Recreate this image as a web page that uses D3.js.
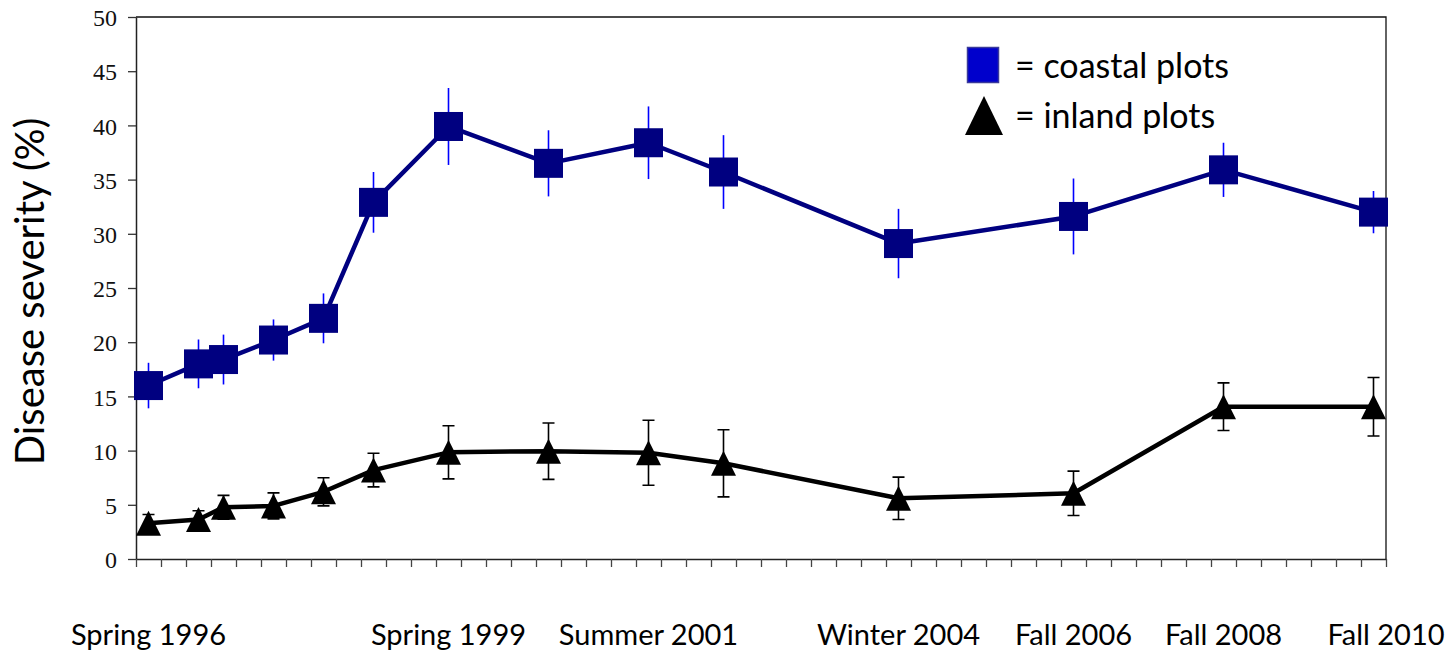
<!DOCTYPE html>
<html>
<head>
<meta charset="utf-8">
<script src="https://cdn.jsdelivr.net/npm/d3@7"></script>
<style>
  html, body { margin: 0; padding: 0; background: #fff; }
  svg { display: block; }
</style>
</head>
<body>
<svg id="chart" width="1448" height="653"></svg>
<script>
// Sampling slots along the category axis (50 slots in total)
const slotCount = 50;
const sampleSlots = [0, 2, 3, 5, 7, 9, 12, 16, 20, 23, 30, 37, 43, 49];

// Mean disease severity (%) and standard error per survey
const coastal    = [16.0, 18.0, 18.4, 20.2, 22.2, 32.9, 39.9, 36.5, 38.4, 35.7, 29.1, 31.6, 35.9, 32.0];
const coastalErr = [2.1, 2.25, 2.3, 1.9, 2.3, 2.8, 3.55, 3.05, 3.35, 3.4, 3.2, 3.5, 2.5, 1.95];
const inland     = [3.3, 3.65, 4.77, 4.9, 6.2, 8.2, 9.84, 9.95, 9.8, 8.83, 5.6, 6.06, 14.05, 14.05];
const inlandErr  = [0.8, 0.8, 1.1, 1.2, 1.3, 1.55, 2.45, 2.6, 3.0, 3.1, 1.95, 2.05, 2.2, 2.7];

// Labelled surveys on the time axis
const labelSlots = [0, 12, 20, 30, 37, 43, 49];
const labelTexts = ["Spring 1996", "Spring 1999", "Summer 2001", "Winter 2004", "Fall 2006", "Fall 2008", "Fall 2010"];

const yTicks = [0, 5, 10, 15, 20, 25, 30, 35, 40, 45, 50];

const plot = { left: 136, right: 1386, top: 17, bottom: 559 };
const sansFont = "Lato, 'Open Sans', sans-serif";

const svg = d3.select("#chart");

const x = d3.scaleLinear().domain([0, slotCount]).range([plot.left, plot.right]);
const y = d3.scaleLinear().domain([0, 50]).range([plot.bottom, plot.top]);
const cx = slot => x(slot + 0.5);

// Plot frame (top and right edges)
svg.append("path")
  .attr("d", `M${plot.left},${plot.top}H${plot.right}V${plot.bottom}`)
  .attr("fill", "none")
  .attr("stroke", "#111")
  .attr("stroke-width", 1.3);

// Y axis
const yAxis = svg.append("g")
  .attr("transform", `translate(${plot.left},0)`)
  .call(d3.axisLeft(y).tickValues(yTicks).tickSize(8).tickSizeOuter(0).tickPadding(11));
yAxis.select(".domain").attr("stroke", "#222").attr("stroke-width", 1.5);
yAxis.selectAll(".tick line").attr("stroke", "#333").attr("stroke-width", 1.3);
yAxis.selectAll(".tick text")
  .attr("font-family", "'Liberation Serif', 'Times New Roman', serif")
  .attr("font-size", 24)
  .attr("fill", "#111")
  .attr("dy", "0.36em");

// X axis: one tick per slot boundary, no numeric labels
const xAxis = svg.append("g")
  .attr("transform", `translate(0,${plot.bottom})`)
  .call(d3.axisBottom(x).tickValues(d3.range(0, slotCount + 1)).tickSize(8).tickSizeOuter(0).tickFormat(""));
xAxis.select(".domain").attr("stroke", "#222").attr("stroke-width", 1.5);
xAxis.selectAll(".tick line").attr("stroke", "#444").attr("stroke-width", 1.3);

// Survey labels under the axis
svg.append("g").selectAll("text")
  .data(labelSlots)
  .join("text")
  .attr("x", (s, i) => i === labelSlots.length - 1 ? x(slotCount) : cx(s))
  .attr("y", 645)
  .attr("text-anchor", "middle")
  .attr("font-family", sansFont)
  .attr("font-size", 29)
  .attr("fill", "#000")
  .text((s, i) => labelTexts[i]);

// Y axis title
svg.append("text")
  .attr("transform", `translate(44,${(118 + 465) / 2}) rotate(-90)`)
  .attr("text-anchor", "middle")
  .attr("font-family", sansFont)
  .attr("font-size", 40)
  .attr("fill", "#000")
  .text("Disease severity (%)");

const line = d3.line().x(d => cx(d.slot)).y(d => y(d.v));
const coastalPts = sampleSlots.map((slot, i) => ({ slot, v: coastal[i], e: coastalErr[i] }));
const inlandPts  = sampleSlots.map((slot, i) => ({ slot, v: inland[i], e: inlandErr[i] }));

// Inland series: line, capped error bars, triangle markers
svg.append("path")
  .datum(inlandPts)
  .attr("d", line)
  .attr("fill", "none")
  .attr("stroke", "#000")
  .attr("stroke-width", 4.5)
  .attr("stroke-linejoin", "round");

const inErr = svg.append("g").attr("stroke", "#000").attr("stroke-width", 1.6);
inErr.selectAll("path")
  .data(inlandPts)
  .join("path")
  .attr("fill", "none")
  .attr("d", d => {
    const px = cx(d.slot), t = y(d.v + d.e), b = y(d.v - d.e);
    return `M${px},${t}V${b}M${px - 6},${t}H${px + 6}M${px - 6},${b}H${px + 6}`;
  });

svg.append("g").selectAll("path")
  .data(inlandPts)
  .join("path")
  .attr("transform", d => `translate(${cx(d.slot)},${y(d.v)})`)
  .attr("d", "M0,-12.5L12.5,12.5L-12.5,12.5Z")
  .attr("fill", "#000");

// Coastal series: line, error bars, square markers
svg.append("path")
  .datum(coastalPts)
  .attr("d", line)
  .attr("fill", "none")
  .attr("stroke", "#000080")
  .attr("stroke-width", 4.5)
  .attr("stroke-linejoin", "round");

svg.append("g").selectAll("line")
  .data(coastalPts)
  .join("line")
  .attr("x1", d => cx(d.slot)).attr("x2", d => cx(d.slot))
  .attr("y1", d => y(d.v + d.e)).attr("y2", d => y(d.v - d.e))
  .attr("stroke", "#0000ff")
  .attr("stroke-width", 1.6);

svg.append("g").selectAll("rect")
  .data(coastalPts)
  .join("rect")
  .attr("x", d => cx(d.slot) - 14.5)
  .attr("y", d => y(d.v) - 14.5)
  .attr("width", 29)
  .attr("height", 29)
  .attr("fill", "#000080");

// Legend
const legend = svg.append("g");
legend.append("rect")
  .attr("x", 967.5).attr("y", 47.5).attr("width", 31).attr("height", 35)
  .attr("fill", "#0000cc")
  .attr("stroke", "#3a3a9a")
  .attr("stroke-width", 1.5);
legend.append("path")
  .attr("d", "M984,96L1003,135L965,135Z")
  .attr("fill", "#000");
legend.append("text")
  .attr("x", 1015).attr("y", 78)
  .attr("font-family", sansFont).attr("font-size", 34).attr("fill", "#000")
  .text("= coastal plots");
legend.append("text")
  .attr("x", 1015).attr("y", 128)
  .attr("font-family", sansFont).attr("font-size", 34).attr("fill", "#000")
  .text("= inland plots");
</script>
</body>
</html>
